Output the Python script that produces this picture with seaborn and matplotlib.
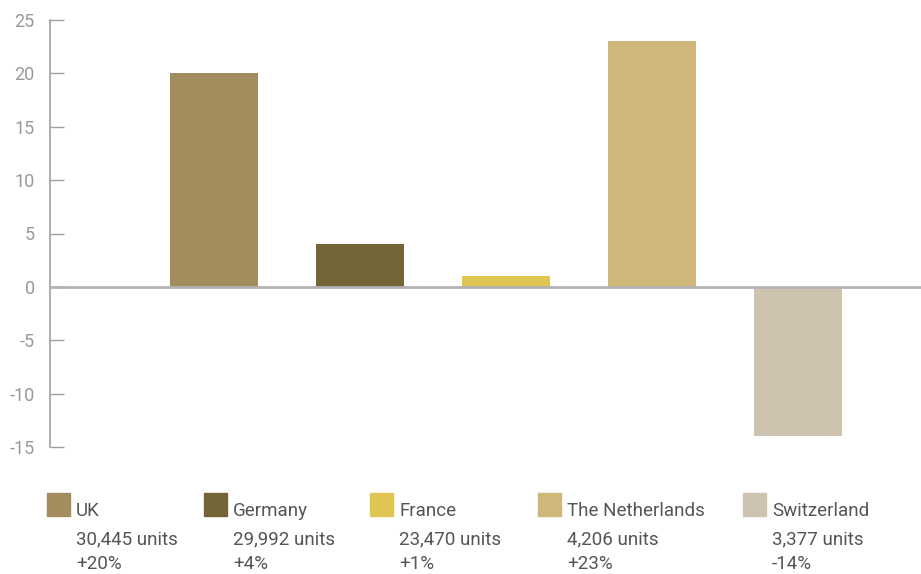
import matplotlib
matplotlib.use("Agg")
import matplotlib.pyplot as plt
import seaborn as sns
import pandas as pd
from matplotlib.patches import Rectangle

countries = ["UK", "Germany", "France", "The Netherlands", "Switzerland"]
growth = [20, 4, 1, 23, -14]
units = ["30,445 units", "29,992 units", "23,470 units", "4,206 units", "3,377 units"]
pct_labels = ["+20%", "+4%", "+1%", "+23%", "-14%"]
colors = ["#A38D5E", "#736536", "#DFC552", "#D0B679", "#CDC3AF"]
yticks = [-15, -10, -5, 0, 5, 10, 15, 20, 25]
ytick_labels = ["-15", "-10", "-5", "0", "5", "10", "15", "20", "25"]

df = pd.DataFrame({"country": countries, "growth": growth})

sns.set_theme(style="white")
plt.rcParams["font.family"] = ["Roboto", "DejaVu Sans"]

W, H = 921, 574
fig = plt.figure(figsize=(W / 100, H / 100), dpi=100)
ax = fig.add_axes([50 / W, 1 - 447 / H, 1 - 50 / W, (447 - 20) / H])

sns.barplot(data=df, x="country", y="growth", hue="country", order=countries,
            hue_order=countries, palette=colors, dodge=False, width=0.603,
            saturation=1, legend=False, linewidth=0, edgecolor="none", ax=ax)

ax.set_ylim(-15, 25)
ax.set_xlim(-1.123, 4.842)
ax.axhline(0, color="#b3b3b3", lw=2, zorder=3)

for s in ["top", "right", "bottom"]:
    ax.spines[s].set_visible(False)
ax.spines["left"].set_color("#a0a0a0")
ax.spines["left"].set_linewidth(1.2)

ax.set_yticks(yticks)
ax.set_yticklabels(ytick_labels)
ax.tick_params(axis="y", direction="in", length=10, width=1.0, color="#a0a0a0",
               labelcolor="#999999", labelsize=13, pad=11, left=True)
ax.tick_params(axis="x", bottom=False, labelbottom=False)
ax.set_xlabel("")
ax.set_ylabel("")

# legend
sq_x = [47, 204, 370, 538, 743]
txt_color = "#555555"
for i, c in enumerate(countries):
    x0 = sq_x[i]
    fig.patches.append(Rectangle((x0 / W, 1 - 516 / H), 23 / W, 23 / H,
                                 transform=fig.transFigure, color=colors[i]))
    tx = (x0 + 29) / W
    fig.text(tx, 1 - 516 / H, c, color=txt_color, fontsize=13.5, va="baseline", ha="left")
    fig.text(tx, 1 - 544 / H, units[i], color=txt_color, fontsize=13.5, va="baseline", ha="left")
    fig.text(tx, 1 - 569 / H, pct_labels[i], color=txt_color, fontsize=13.5, va="baseline", ha="left")

fig.savefig("out.png", dpi=100)
